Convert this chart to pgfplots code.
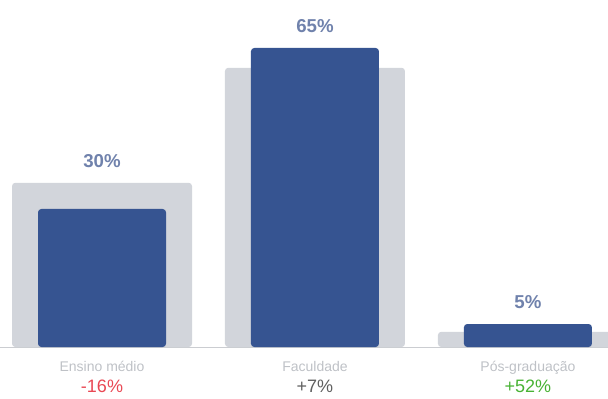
\documentclass[border=0pt]{standalone}
\usepackage{pgfplots}
\pgfplotsset{compat=1.18}
\usepackage{fontspec}
\setmainfont{Liberation Sans}
\definecolor{fbblue}{RGB}{54,84,145}
\definecolor{fbgray}{RGB}{210,213,219}
\definecolor{toplab}{RGB}{112,130,172}
\definecolor{catgray}{RGB}{190,193,198}
\definecolor{negred}{RGB}{233,72,84}
\definecolor{posgreen}{RGB}{72,178,52}
\definecolor{neutral}{RGB}{95,95,95}
\begin{document}
\begin{tikzpicture}
\begin{axis}[
  scale only axis,
  width=456pt, height=299.25pt,
  xmin=-0.479, xmax=2.376,
  ymin=-11.3, ymax=75.43,
  enlargelimits=false,
  axis x line=middle,
  axis y line=none,
  x axis line style={-, draw=catgray!80, line width=0.6pt},
  xtick={0,1,2},
  major tick length=0pt,
  xticklabels={
    {{\fontsize{10.5}{12}\selectfont\color{catgray}Ensino médio}\\[3.5pt]{\fontsize{13.5}{15}\selectfont\color{negred}-16\%}},
    {{\fontsize{10.5}{12}\selectfont\color{catgray}Faculdade}\\[3.5pt]{\fontsize{13.5}{15}\selectfont\color{neutral}+7\%}},
    {{\fontsize{10.5}{12}\selectfont\color{catgray}Pós-graduação}\\[3.5pt]{\fontsize{13.5}{15}\selectfont\color{posgreen}+52\%}}
  },
  xticklabel style={anchor=north, align=center, inner sep=0pt, yshift=-10.5pt},
  clip=true,
]
% previous period (gray, wide)
\addplot[ybar, bar shift=0pt, bar width=135pt, fill=fbgray, draw=none, rounded corners=2.5pt]
  coordinates {(0,35.7) (1,60.7) (2,3.3)};
% current period (blue, narrow)
\addplot[ybar, bar shift=0pt, bar width=96pt, fill=fbblue, draw=none, rounded corners=2.5pt]
  coordinates {(0,30) (1,65) (2,5)};
% labels above the taller bar
\addplot[ybar, bar shift=0pt, bar width=96pt, draw=none, fill=none,
  point meta=explicit symbolic,
  nodes near coords,
  every node near coord/.append style={anchor=south, inner sep=0pt, yshift=11pt,
    font=\fontsize{14}{16}\selectfont\bfseries, text=toplab}]
  coordinates {(0,35.7) [30\%] (1,65) [65\%] (2,5) [5\%]};
\end{axis}
\pgfresetboundingbox
\path[use as bounding box] (current axis.south west) rectangle (current axis.north east);
\end{tikzpicture}
\end{document}
